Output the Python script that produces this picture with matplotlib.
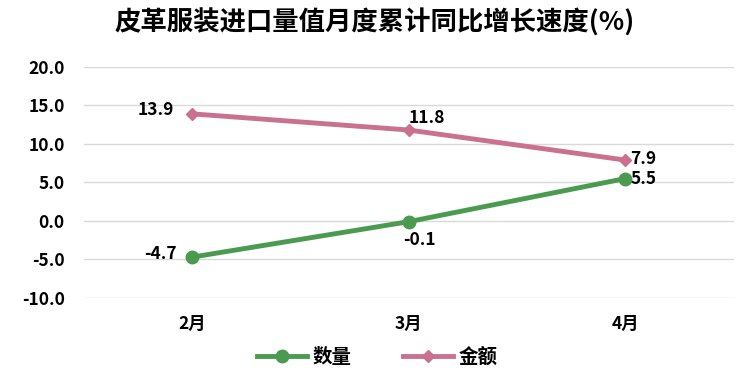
import matplotlib
matplotlib.use("Agg")
import matplotlib.pyplot as plt

plt.rcParams['font.family'] = ['Noto Sans CJK SC', 'DejaVu Sans']

# ----------------------------
# Data
# ----------------------------
months = ["2月", "3月", "4月"]
quantity = [-4.7, -0.1, 5.5]
amount = [13.9, 11.8, 7.9]
yticks = [-10, -5, 0, 5, 10, 15, 20]

GREEN = "#4a9a4f"
PINK = "#c9718f"

fig = plt.figure(figsize=(7.5, 3.8), dpi=100)
ax = fig.add_axes([0.112, 0.216, 0.866, 0.608])

x = list(range(len(months)))
ax.plot(x, quantity, color=GREEN, lw=3.5, marker="o", ms=9, label="数量")
ax.plot(x, amount, color=PINK, lw=3.5, marker="D", ms=6, label="金额")

# data labels
q_off = [(-23, 2), (8, -13), (13, 0)]
a_off = [(-26, 3), (13, 9), (13, 1)]
for i in x:
    ax.annotate(f"{quantity[i]:.1f}", (i, quantity[i]), xytext=q_off[i],
                textcoords="offset points", ha="center", va="center",
                fontsize=12.5, fontweight="bold")
    ax.annotate(f"{amount[i]:.1f}", (i, amount[i]), xytext=a_off[i],
                textcoords="offset points", ha="center", va="center",
                fontsize=12.5, fontweight="bold")

ax.set_xlim(-0.5, 2.5)
ax.set_ylim(-10, 20)
ax.set_yticks(yticks)
ax.set_yticklabels([f"{v:.1f}" for v in yticks], fontsize=12.5, fontweight="bold")
ax.set_xticks(x)
ax.set_xticklabels(months, fontsize=12.5, fontweight="bold")
ax.tick_params(length=0)
ax.tick_params(axis="x", pad=12)
ax.tick_params(axis="y", pad=14)
ax.grid(axis="y", color="#d9d9d9", lw=1)
ax.set_axisbelow(True)
for s in ax.spines.values():
    s.set_visible(False)

fig.text(0.5, 0.94, "皮革服装进口量值月度累计同比增长速度(%)", ha="center", va="center",
         fontsize=19, fontweight="bold")

leg = fig.legend(loc="center", bbox_to_anchor=(0.503, 0.06), ncol=2, frameon=False,
                 prop={"size": 14, "weight": "bold"}, handlelength=2.6, columnspacing=2.6,
                 handletextpad=0.3)

plt.savefig("out.png", dpi=100)
